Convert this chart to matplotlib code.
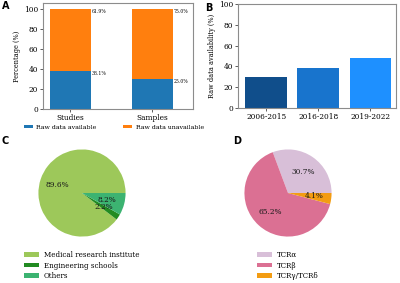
import matplotlib
matplotlib.use("Agg")
import matplotlib.pyplot as plt

plt.rcParams['font.family'] = 'DejaVu Serif'

# panel A: stacked percentages
groups = ['Studies', 'Samples']
available = [38.1, 30.0]
unavailable = [61.9, 70.0]
available_txt = ['38.1%', '25.0%']
unavailable_txt = ['61.9%', '75.0%']

# panel B: availability by period
periods = ['2006-2015', '2016-2018', '2019-2022']
availability = [30.0, 38.5, 48.5]

# panel C: institution types
inst_labels = ['Medical research institute', 'Engineering schools', 'Others']
inst_share = [89.6, 2.2, 8.2]

# panel D: TCR chains
tcr_labels = ['TCRα', 'TCRβ', 'TCRγ/TCRδ']
tcr_share = [30.7, 65.2, 4.1]

fig = plt.figure(figsize=(4.0, 2.83), dpi=100)
grey = '#8c8c8c'

def style_axes(ax):
    for s in ax.spines.values():
        s.set_color(grey)
        s.set_linewidth(0.8)
    ax.tick_params(labelsize=5.3, length=2, width=0.6, color='#444444', pad=1.5)

# ---- A
axA = fig.add_axes([0.1075, 0.615, 0.375, 0.374])
x = range(len(groups))
axA.bar(x, available, width=0.5, color='#1f77b4', label='Raw data available')
axA.bar(x, unavailable, width=0.5, bottom=available, color='#ff7f0e',
        label='Raw data unavailable')
for i in x:
    axA.text(i + 0.26, available[i], available_txt[i], fontsize=3.3, va='top')
    axA.text(i + 0.26, available[i] + unavailable[i], unavailable_txt[i],
             fontsize=3.3, va='top')
axA.set_xticks(list(x))
axA.set_xticklabels(groups)
axA.set_xlim(-0.33, 1.5)
axA.set_ylim(0, 106)
axA.set_yticks([0, 20, 40, 60, 80, 100])
axA.set_ylabel('Percentage (%)', fontsize=4.7, labelpad=2)
style_axes(axA)
fig.legend(*axA.get_legend_handles_labels(), loc='center left',
           bbox_to_anchor=(0.06, 1 - 127 / 283), ncol=2, frameon=False,
           fontsize=4.5, handlelength=1.5, handleheight=0.5, columnspacing=4.2,
           handletextpad=0.5, borderpad=0, borderaxespad=0)

# ---- B
axB = fig.add_axes([0.595, 0.618, 0.395, 0.368])
axB.bar(periods, availability, width=0.8,
        color=['#104E8B', '#1874CD', '#1E90FF'])
axB.set_ylim(0, 100)
axB.set_xlim(-0.54, 2.49)
axB.set_yticks([0, 20, 40, 60, 80, 100])
axB.set_ylabel('Raw data availability (%)', fontsize=4.7, labelpad=2)
style_axes(axB)

# ---- C
axC = fig.add_axes([0.095, 0.1625, 0.22, 0.311])
wedgesC, _, autoC = axC.pie(inst_share, colors=['#9dc85a', '#228B22', '#3CB371'],
                            autopct='%1.1f%%', startangle=0, counterclock=True,
                            textprops={'fontsize': 5.3, 'color': '#1a1a1a'})
axC.set_xlim(-1.01, 1.01)
axC.set_ylim(-1.01, 1.01)
axC.set_aspect('equal')
fig.legend(wedgesC, inst_labels, loc='upper left', bbox_to_anchor=(0.06, 0.113),
           frameon=False, fontsize=5.1, handlelength=2.1, handleheight=0.6,
           labelspacing=0.35, handletextpad=0.7, borderpad=0, borderaxespad=0)

# ---- D
axD = fig.add_axes([0.61, 0.1625, 0.22, 0.311])
wedgesD, _, autoD = axD.pie(tcr_share, colors=['#D8BFD8', '#DB7093', '#F39C12'],
                            autopct='%1.1f%%', startangle=0, counterclock=True,
                            textprops={'fontsize': 5.3, 'color': '#1a1a1a'})
axD.set_xlim(-1.01, 1.01)
axD.set_ylim(-1.01, 1.01)
axD.set_aspect('equal')
fig.legend(wedgesD, tcr_labels, loc='upper left', bbox_to_anchor=(0.6425, 0.113),
           frameon=False, fontsize=5.1, handlelength=2.1, handleheight=0.6,
           labelspacing=0.35, handletextpad=0.7, borderpad=0, borderaxespad=0)

# panel letters
for lab, px, py in [('A', 0.005, 0.995), ('B', 0.512, 0.99),
                    ('C', 0.005, 0.52), ('D', 0.582, 0.52)]:
    fig.text(px, py, lab, fontsize=7, fontweight='bold', family='DejaVu Sans',
             va='top', ha='left')

fig.savefig('out.png', dpi=100)
